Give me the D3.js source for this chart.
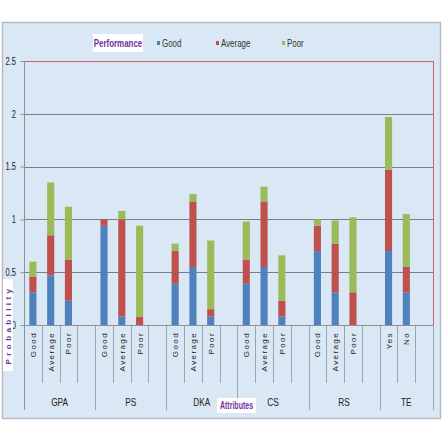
<!DOCTYPE html>
<html>
<head>
<meta charset="utf-8">
<script src="https://cdn.jsdelivr.net/npm/d3@7"></script>
<style>
body { margin: 0; background: #fff; }
svg text { font-family: "Liberation Sans", Arial, sans-serif; }
</style>
</head>
<body>
<svg width="445" height="422"></svg>
<script>
// attribute groups and their levels
var groups = ['GPA', 'PS', 'DKA', 'CS', 'RS', 'TE'];
var levels = [
	['Good', 'Average', 'Poor'],
	['Good', 'Average', 'Poor'],
	['Good', 'Average', 'Poor'],
	['Good', 'Average', 'Poor'],
	['Good', 'Average', 'Poor'],
	['Yes', 'No']
];

// stacked segments, one value per bar in order
var good = [0.31, 0.47, 0.23, 0.94, 0.08, 0, 0.39, 0.55, 0.08, 0.39, 0.55, 0.08, 0.70, 0.31, 0, 0.70, 0.31];
var average = [0.15, 0.38, 0.39, 0.06, 0.92, 0.08, 0.31, 0.62, 0.07, 0.23, 0.62, 0.15, 0.24, 0.46, 0.31, 0.77, 0.24];
var poor = [0.14, 0.50, 0.50, 0, 0.08, 0.86, 0.07, 0.07, 0.65, 0.36, 0.14, 0.43, 0.06, 0.22, 0.71, 0.50, 0.50];

var series = ['Good', 'Average', 'Poor'];
var colors = ['#4f81bd', '#c0504d', '#9bbb59'];
var yTicks = [0, 0.5, 1, 1.5, 2, 2.5];

var svg = d3.select('svg');

// slots: each level plus one empty slot per group
var slots = [];
var bars = [];
var k = 0;
groups.forEach(function(g, gi) {
	levels[gi].forEach(function(l) {
		slots.push(g + '|' + l);
		bars.push({ key: g + '|' + l, group: g, level: l, vals: [good[k], average[k], poor[k]] });
		k++;
	});
	slots.push(g + '|');
});

var pLeft = 24, pRight = 433, pTop = 61, pBottom = 325;

var x = d3.scaleBand().domain(slots).range([pLeft, pRight]);
var y = d3.scaleLinear().domain([0, 2.5]).range([pBottom, pTop]);

// background frame
svg.append('rect')
	.attr('x', 2.5).attr('y', 22.5)
	.attr('width', 438).attr('height', 396)
	.attr('fill', '#dae7f4')
	.attr('stroke', '#b8bcc2')
	.attr('stroke-width', 1.5);

// gridlines
svg.selectAll('.grid')
	.data(yTicks.filter((t) => t > 0))
	.enter()
	.append('line')
	.attr('class', 'grid')
	.attr('x1', pLeft).attr('x2', pRight)
	.attr('y1', (d) => Math.round(y(d)) + 0.5)
	.attr('y2', (d) => Math.round(y(d)) + 0.5)
	.attr('stroke', (d) => (d == 2.5 ? '#d0606a' : '#74808e'))
	.attr('stroke-width', 1);

// right red border
svg.append('line')
	.attr('x1', pRight + 0.5).attr('x2', pRight + 0.5)
	.attr('y1', pTop).attr('y2', pBottom)
	.attr('stroke', '#d0606a');

// bars
var barW = x.bandwidth() * 0.4;
bars.forEach(function(b) {
	var base = 0;
	b.vals.forEach(function(v, si) {
		if (v > 0) {
			svg.append('rect')
				.attr('x', x(b.key) + (x.bandwidth() - barW) / 2)
				.attr('y', y(base + v))
				.attr('width', barW)
				.attr('height', y(base) - y(base + v))
				.attr('fill', colors[si]);
		}
		base += v;
	});
});

// y axis
var yAxis = svg.append('g')
	.attr('transform', 'translate(' + (pLeft + 0.5) + ',0)')
	.call(d3.axisLeft(y).tickValues(yTicks).tickSize(4).tickFormat((d) => String(d)));
yAxis.select('.domain').attr('stroke', '#8a939c').attr('d', 'M0,' + pTop + 'V410');
yAxis.selectAll('.tick line').attr('stroke', '#8a939c');
yAxis.selectAll('.tick text').attr('fill', '#222').style('font-size', '10px').attr('x', -6)
	.attr('transform', 'translate(-4,0) scale(0.75,1)');

// category separators
var seps = svg.append('g');
slots.forEach(function(s, i) {
	var groupEnd = i == slots.length - 1 || slots[i].split('|')[1] === '';
	var xx = Math.round(x(s) + x.bandwidth()) + 0.5;
	seps.append('line')
		.attr('x1', xx).attr('x2', xx)
		.attr('y1', pBottom).attr('y2', groupEnd ? 410 : 383)
		.attr('stroke', '#9aa4ae');
});
seps.append('line')
	.attr('x1', pLeft).attr('x2', pRight)
	.attr('y1', pBottom + 0.5).attr('y2', pBottom + 0.5)
	.attr('stroke', '#8a939c');

// level labels
svg.selectAll('.lvl')
	.data(bars)
	.enter()
	.append('text')
	.attr('class', 'lvl')
	.attr('transform', (d) => 'translate(' + (x(d.key) + x.bandwidth() / 2 + 3) + ',332) rotate(-90)')
	.attr('text-anchor', 'end')
	.style('font-size', '8px')
	.style('letter-spacing', '1.4px')
	.attr('fill', '#222')
	.text((d) => d.level);

// group labels
groups.forEach(function(g, gi) {
	var first = x(g + '|' + levels[gi][0]);
	var last = x(g + '|') + x.bandwidth();
	svg.append('g').attr('transform', 'translate(' + (first + last) / 2 + ',406)')
		.append('text')
		.attr('text-anchor', 'middle')
		.attr('transform', 'scale(0.75,1)')
		.style('font-size', '11px')
		.attr('fill', '#222')
		.text(g);
});

// legend
svg.append('rect').attr('x', 93).attr('y', 34).attr('width', 50).attr('height', 18).attr('fill', '#fff');
svg.append('g').attr('transform', 'translate(118,47)')
	.append('text').attr('text-anchor', 'middle').attr('transform', 'scale(0.72,1)')
	.style('font-size', '11px').style('font-weight', 'bold').attr('fill', '#7030a0').text('Performance');
var legX = [157, 216, 282];
series.forEach(function(s, i) {
	svg.append('rect').attr('x', legX[i]).attr('y', 41).attr('width', 3).attr('height', 4).attr('fill', colors[i]);
	svg.append('g').attr('transform', 'translate(' + (legX[i] + 5) + ',47)')
		.append('text').attr('transform', 'scale(0.72,1)')
		.style('font-size', '11px').attr('fill', '#333').text(s);
});

// axis titles
svg.append('rect').attr('x', 217).attr('y', 398).attr('width', 39).attr('height', 15).attr('fill', '#fff');
svg.append('g').attr('transform', 'translate(236.5,409)')
	.append('text').attr('text-anchor', 'middle').attr('transform', 'scale(0.7,1)')
	.style('font-size', '10px').style('font-weight', 'bold').attr('fill', '#7030a0').text('Attributes');

svg.append('rect').attr('x', 3).attr('y', 279).attr('width', 10).attr('height', 92).attr('fill', '#fff');
svg.append('text')
	.attr('transform', 'translate(11,325) rotate(-90)')
	.attr('text-anchor', 'middle')
	.style('font-size', '8px')
	.style('font-weight', 'bold')
	.style('letter-spacing', '3.4px')
	.attr('fill', '#7030a0')
	.text('Probability');
</script>
</body>
</html>
